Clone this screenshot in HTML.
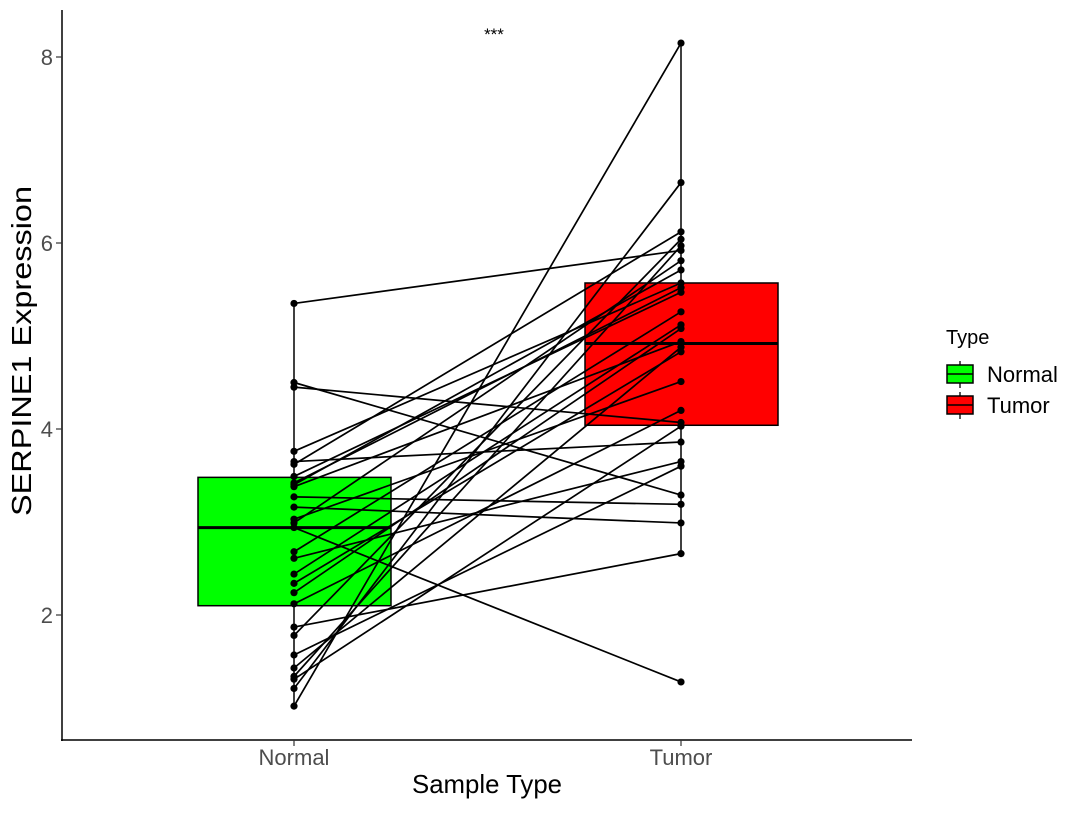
<!DOCTYPE html>
<html><head><meta charset="utf-8"><style>
body{margin:0;background:#fff;}
svg text{font-family:"Liberation Sans",sans-serif;}
</style></head><body>
<svg id="chart" width="1080" height="810">
<g id="plot"></g>
</svg>
<script>
const categories = ["Normal","Tumor"];
const normalValues = [5.35,4.50,4.45,3.76,3.65,3.62,3.49,3.42,3.40,3.38,3.27,3.16,3.03,2.99,2.94,2.68,2.61,2.44,2.34,2.24,2.12,1.87,1.78,1.57,1.43,1.34,1.31,1.21,1.02];
const tumorValues  = [5.92,3.29,4.07,5.57,3.86,6.12,5.47,5.52,5.71,4.94,3.19,2.99,4.51,5.81,1.28,5.26,3.65,5.12,4.83,5.08,4.20,2.66,6.04,3.60,4.88,5.97,4.03,6.65,8.15];
const boxQ1 = [2.10,4.04];
const boxMedian = [2.94,4.92];
const boxQ3 = [3.48,5.57];
const yTicks = [2,4,6,8];
const fills = ["#00ff00","#ff0000"];

const NS="http://www.w3.org/2000/svg";
const g=document.getElementById('plot');
const yS=v=>615-(v-2)*93;
const xS=i=>[294,681][i];
function mk(tag,attrs,parent){const e=document.createElementNS(NS,tag);for(const k in attrs)e.setAttribute(k,attrs[k]);(parent||g).appendChild(e);return e;}

[normalValues,tumorValues].forEach((vals,i)=>{
  const q1=boxQ1[i],med=boxMedian[i],q3=boxQ3[i],iqr=q3-q1;
  const lo=Math.min(...vals.filter(v=>v>=q1-1.5*iqr)), hi=Math.max(...vals);
  const x=xS(i);
  const w=mk('line',{x1:x,x2:x,y1:yS(hi),y2:yS(lo),stroke:'#000','stroke-width':1.5});
  
  
  const r=mk('rect',{x:x-96,y:yS(q3),width:193,height:yS(q1)-yS(q3),fill:fills[i],stroke:'#000','stroke-width':1.5});
  
  
  const m=mk('line',{x1:x-96,x2:x+97,y1:yS(med),y2:yS(med),stroke:'#000','stroke-width':3});
  
  
});
normalValues.forEach((v,k)=>{
  const l=mk('line',{x1:xS(0),y1:yS(v),x2:xS(1),y2:yS(tumorValues[k]),stroke:'#000','stroke-width':1.7});
  
  
});
[normalValues,tumorValues].forEach((vals,i)=>vals.forEach(v=>{
  const c=mk('circle',{cx:xS(i),cy:yS(v),r:3.6,fill:'#000'});
  
  
}));
const ya=mk('line',{x1:62,x2:62,y1:10,y2:741,stroke:'#000','stroke-width':1.5});


const xa=mk('line',{x1:61,x2:912,y1:740,y2:740,stroke:'#000','stroke-width':1.5});


yTicks.forEach(t=>{
  const tk=mk('line',{x1:56,x2:62,y1:yS(t),y2:yS(t),stroke:'#333','stroke-width':1.2});
  
  
  const tx=mk('text',{x:53,y:yS(t)+8,'text-anchor':'end','font-size':22,fill:'#4d4d4d'});
  tx.textContent=t;
  
  
});
categories.forEach((c,i)=>{
  const tk=mk('line',{x1:xS(i),x2:xS(i),y1:740,y2:746,stroke:'#333','stroke-width':1.2});
  
  
  const tx=mk('text',{x:xS(i),y:765,'text-anchor':'middle','font-size':22,fill:'#4d4d4d'});
  tx.textContent=c;
  
  
});
</script>
<svg width="1080" height="810" style="position:absolute;left:0;top:0">
<text x="494" y="40" text-anchor="middle" font-size="17">***</text>
<text x="487" y="793" text-anchor="middle" font-size="26" textLength="150" lengthAdjust="spacingAndGlyphs">Sample Type</text>
<text transform="translate(31,351) rotate(-90)" text-anchor="middle" font-size="28" textLength="330" lengthAdjust="spacingAndGlyphs">SERPINE1 Expression</text>
<text x="946" y="344" font-size="20">Type</text>
<g>
<line x1="960" x2="960" y1="361" y2="388" stroke="#000" stroke-width="1.3"/>
<rect x="947" y="365" width="26" height="18" fill="#00ff00" stroke="#000" stroke-width="1.5"/>
<line x1="947" x2="973" y1="374" y2="374" stroke="#000" stroke-width="1.5"/>
<text x="987" y="382" font-size="22">Normal</text>
</g>
<g>
<line x1="960" x2="960" y1="392" y2="419" stroke="#000" stroke-width="1.3"/>
<rect x="947" y="396" width="26" height="18" fill="#ff0000" stroke="#000" stroke-width="1.5"/>
<line x1="947" x2="973" y1="405" y2="405" stroke="#000" stroke-width="1.5"/>
<text x="987" y="413" font-size="22">Tumor</text>
</g>
</svg>
</body></html>
